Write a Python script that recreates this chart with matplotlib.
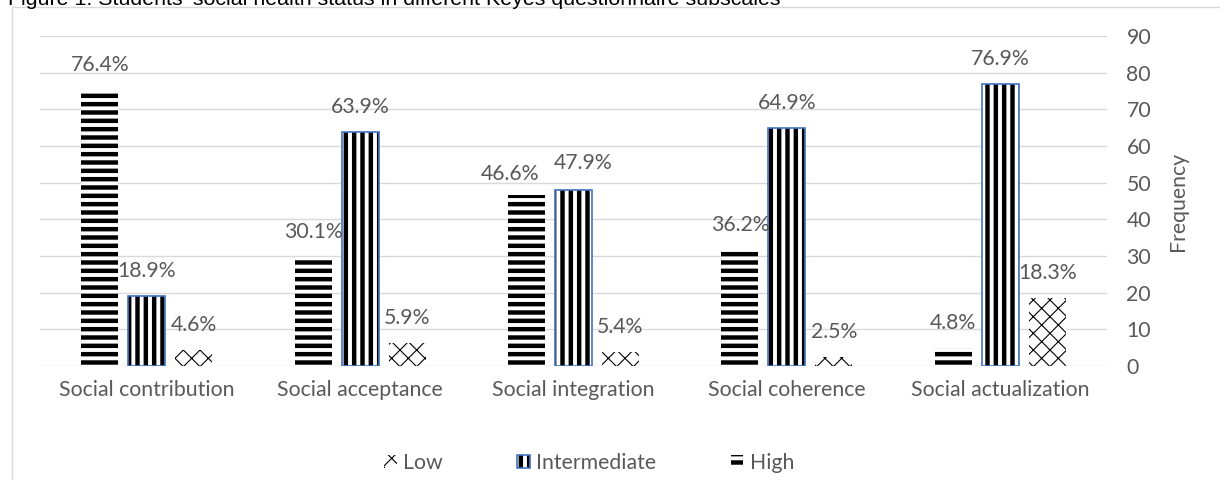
import matplotlib
matplotlib.use("Agg")
from matplotlib import pyplot as plt
from matplotlib.patches import Rectangle
from matplotlib.legend_handler import HandlerTuple, HandlerPatch
import numpy as np

categories = ["Social contribution", "Social acceptance", "Social integration",
              "Social coherence", "Social actualization"]

# bar heights as drawn
high = [75.3, 29.8, 46.6, 31.6, 4.8]
intermediate = [19.1, 63.9, 47.9, 64.8, 76.9]
low = [4.4, 6.3, 3.8, 2.5, 18.5]

# data labels as printed
high_lbl = ["76.4%", "30.1%", "46.6%", "36.2%", "4.8%"]
inter_lbl = ["18.9%", "63.9%", "47.9%", "64.9%", "76.9%"]
low_lbl = ["4.6%", "5.9%", "5.4%", "2.5%", "18.3%"]

grey = "#595959"
blue = "#4472C4"
fs = 15.3
plt.rcParams['font.family'] = ['Lato', 'DejaVu Sans']

fig = plt.figure(figsize=(12.2, 4.8), dpi=100)
fig.patches.append(Rectangle((12 / 1220, -0.1), 1.1, (473 / 480) + 0.1,
                             transform=fig.transFigure, fill=False,
                             edgecolor="#D9D9D9", lw=1))
fig.text(8 / 1220, 1 - 5 / 480,
         "Figure 1: Students' social health status in different Keyes questionnaire subscales",
         family="Liberation Sans", fontsize=15.4, va="baseline", ha="left", color="black")

ax = fig.add_axes([40 / 1220, 114 / 480, 1067 / 1220, 330 / 480])
x = np.arange(len(categories))
w = 0.173
step = 0.22


def bars(pos, vals, hatch, lw_hatch, label):
    with plt.rc_context({'hatch.linewidth': lw_hatch}):
        b = ax.bar(pos, vals, w, color="white", hatch=hatch, edgecolor="black",
                   linewidth=0, label=label)
        for p in b:
            if hasattr(p, "set_hatch_linewidth"):
                p.set_hatch_linewidth(lw_hatch)
    return b


b_high = bars(x - step, high, "--", 3.2, "High")
b_int = bars(x, intermediate, "||", 3.2, "Intermediate")
b_low = bars(x + step, low, "xx", 0.8, "Low")
# blue outline of the intermediate bars
b_out = ax.bar(x, intermediate, w, fill=False, edgecolor=blue, linewidth=1.2)

# labels that were pushed aside so they do not collide (points)
nudge = {("high", 2): (-12, 15), ("int", 2): (7, 20)}

for name, bs, labels in [("high", b_high, high_lbl), ("int", b_int, inter_lbl),
                         ("low", b_low, low_lbl)]:
    for i, (p, t) in enumerate(zip(bs, labels)):
        ax.annotate(t, (p.get_x() + p.get_width() / 2, p.get_height()),
                    xytext=nudge.get((name, i), (0, 18)),
                    textcoords="offset points", ha="center",
                    va="center", fontsize=fs, color=grey)

ax.set_xlim(-0.5, 4.5)
ax.set_ylim(0, 90)
ax.set_yticks(range(0, 91, 10))
ax.yaxis.tick_right()
ax.yaxis.set_label_position("right")
ax.set_ylabel("Frequency", fontsize=fs, color=grey, labelpad=12)
ax.set_xticks(x)
ax.set_xticklabels(categories)
ax.tick_params(axis="both", length=0, labelsize=fs, labelcolor=grey)
ax.tick_params(axis="x", pad=10)
ax.tick_params(axis="y", pad=14)
ax.grid(axis="y", color="#D9D9D9", lw=1)
ax.set_axisbelow(True)
for s in ax.spines.values():
    s.set_visible(False)


class HatchHandler(HandlerPatch):
    # keep the hatch line width of the bars in the legend keys
    def create_artists(self, legend, orig_handle, xdescent, ydescent,
                       width, height, fontsize, trans):
        arts = super().create_artists(legend, orig_handle, xdescent, ydescent,
                                      width, height, fontsize, trans)
        if hasattr(orig_handle, "get_hatch_linewidth"):
            for a in arts:
                a.set_hatch_linewidth(orig_handle.get_hatch_linewidth())
        return arts


handles = [b_low[0], (b_int[0], b_out[0]), b_high[0]]
fig.legend(handles, ["Low", "Intermediate", "High"], loc="center",
           bbox_to_anchor=(589 / 1220, 1 - 463 / 480), ncol=3, frameon=False,
           fontsize=fs, labelcolor=grey, handlelength=0.6, handleheight=0.6,
           handletextpad=0.3, columnspacing=3.5,
           handler_map={Rectangle: HatchHandler(),
                        tuple: HandlerTuple(ndivide=1)})

fig.savefig("out.png", dpi=100)
